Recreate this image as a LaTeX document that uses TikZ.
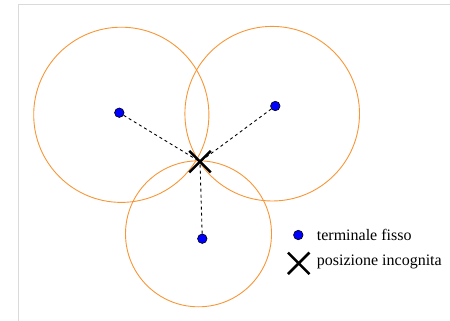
\documentclass[tikz,border=0pt]{standalone}
\usepackage{fontspec}
\setmainfont{Liberation Serif}
\usetikzlibrary{shapes.misc}
\definecolor{ring}{RGB}{247,150,55}
\definecolor{framegrey}{RGB}{218,218,218}
\begin{document}
\begin{tikzpicture}[x=1pt,y=-1pt,
  dot/.style={circle,draw=black,fill=blue,inner sep=0pt,minimum size=9.5pt,line width=0.6pt},
  xmark/.style={cross out,draw=black,line width=2.5pt,inner sep=0pt,minimum size=19pt},
  ringline/.style={draw=ring,line width=0.9pt},
  link/.style={draw=black,dash pattern=on 3pt off 3pt,line width=0.9pt},
  legend/.style={anchor=west,font=\fontsize{16}{19}\selectfont,inner sep=0pt}]
\useasboundingbox (0,0) rectangle (450,321);
\draw[framegrey,line width=1pt] (18,321) -- (18,4.5) -- (450,4.5);
% circles
\draw[ringline] (121.3,114.8) circle (87.6);
\draw[ringline] (272.2,113.7) circle (87.3);
\draw[ringline] (198.5,233.8) circle (73);
% unknown position
\node[xmark] (x) at (200,161.7) {};
% terminals
\node[dot] (t1) at (119.3,112.7) {};
\node[dot] (t2) at (275.3,106) {};
\node[dot] (t3) at (202.3,238.7) {};
\draw[link] (t1) -- (x.center);
\draw[link] (t2) -- (x.center);
\draw[link] (t3) -- (x.center);
% legend
\node[dot] (ld) at (298.3,235) {};
\node[legend] (lt1) at (316.7,235) {terminale fisso};
\node[xmark] (lx) at (298.7,263.3) {};
\node[legend] (lt2) at (316.7,262) {posizione incognita};
\end{tikzpicture}
\end{document}
